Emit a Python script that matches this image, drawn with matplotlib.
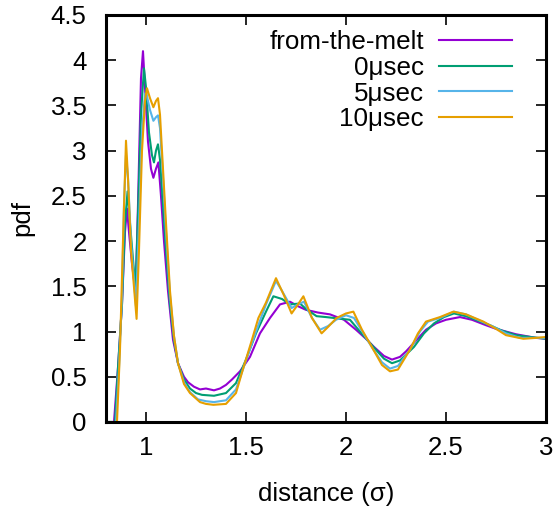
import matplotlib
matplotlib.use("Agg")
import matplotlib.pyplot as plt

plt.rcParams['font.family'] = ['Liberation Sans', 'DejaVu Sans']

# pair distribution curves
x_melt = [0.80, 0.84, 0.86, 0.88, 0.895, 0.905, 0.915, 0.93, 0.948, 0.96, 0.975, 0.985,
          0.995, 1.01, 1.025, 1.037, 1.05, 1.062, 1.075, 1.09, 1.11, 1.135, 1.16, 1.19,
          1.21, 1.24, 1.27, 1.30, 1.34, 1.37, 1.40, 1.43, 1.47, 1.52, 1.57, 1.62, 1.67,
          1.72, 1.76, 1.80, 1.86, 1.92, 1.99, 2.05, 2.10, 2.14, 2.19, 2.23, 2.27, 2.30,
          2.35, 2.40, 2.45, 2.50, 2.57, 2.63, 2.70, 2.75, 2.80, 2.85, 2.90, 2.95, 3.00]
y_melt = [0.0, 0.0, 0.6, 1.3, 2.1, 2.36, 2.1, 1.75, 1.43, 2.4, 3.8, 4.10,
          3.7, 3.1, 2.8, 2.70, 2.80, 2.87, 2.5, 2.0, 1.45, 0.91, 0.65, 0.50,
          0.44, 0.39, 0.36, 0.37, 0.35, 0.37, 0.41, 0.47, 0.56, 0.72, 0.98, 1.15, 1.30,
          1.33, 1.28, 1.24, 1.21, 1.19, 1.13, 1.02, 0.92, 0.83, 0.73, 0.69, 0.72, 0.78,
          0.90, 1.02, 1.09, 1.13, 1.16, 1.13, 1.07, 1.03, 1.00, 0.97, 0.95, 0.93, 0.92]

x_0us = [0.80, 0.845, 0.86, 0.88, 0.895, 0.908, 0.92, 0.935, 0.948, 0.96, 0.975, 0.99,
         1.00, 1.015, 1.03, 1.04, 1.05, 1.06, 1.07, 1.085, 1.10, 1.12, 1.14, 1.16, 1.19,
         1.22, 1.25, 1.28, 1.34, 1.40, 1.45, 1.50, 1.55, 1.60, 1.637, 1.68, 1.72, 1.77,
         1.80, 1.853, 1.90, 1.94, 2.02, 2.07, 2.137, 2.19, 2.23, 2.27, 2.34, 2.39, 2.44,
         2.49, 2.54, 2.60, 2.66, 2.72, 2.78, 2.85, 2.92, 3.00]
y_0us = [0.0, 0.0, 0.6, 1.3, 2.2, 2.55, 2.2, 1.8, 1.47, 2.3, 3.4, 3.91,
         3.7, 3.2, 2.95, 2.87, 3.0, 3.07, 2.9, 2.4, 1.9, 1.3, 0.9, 0.65, 0.47,
         0.37, 0.32, 0.30, 0.29, 0.32, 0.43, 0.69, 0.98, 1.22, 1.39, 1.36, 1.30, 1.31,
         1.25, 1.17, 1.16, 1.15, 1.13, 1.00, 0.83, 0.70, 0.65, 0.68, 0.83, 0.98, 1.09,
         1.16, 1.20, 1.17, 1.12, 1.07, 1.01, 0.96, 0.94, 0.92]

x_5us = [0.80, 0.85, 0.865, 0.88, 0.89, 0.90, 0.91, 0.925, 0.95, 0.965, 0.98, 0.995,
         1.005, 1.02, 1.037, 1.05, 1.06, 1.07, 1.085, 1.10, 1.12, 1.14, 1.16, 1.19,
         1.22, 1.26, 1.30, 1.34, 1.40, 1.45, 1.50, 1.55, 1.60, 1.65, 1.68, 1.728, 1.76,
         1.79, 1.83, 1.87, 1.91, 1.95, 2.00, 2.04, 2.09, 2.137, 2.18, 2.22, 2.26, 2.32,
         2.37, 2.41, 2.47, 2.54, 2.60, 2.67, 2.73, 2.80, 2.87, 2.94, 3.00]
y_5us = [0.0, 0.0, 0.6, 1.4, 2.4, 2.95, 2.7, 2.0, 1.28, 2.2, 3.2, 3.63,
         3.6, 3.45, 3.33, 3.37, 3.39, 3.25, 2.7, 2.1, 1.4, 0.95, 0.65, 0.44,
         0.33, 0.25, 0.23, 0.22, 0.24, 0.36, 0.68, 1.0, 1.3, 1.56, 1.45, 1.26, 1.30,
         1.33, 1.15, 1.02, 1.06, 1.13, 1.18, 1.15, 0.97, 0.80, 0.66, 0.59, 0.62, 0.80,
         1.0, 1.11, 1.15, 1.22, 1.19, 1.12, 1.06, 0.98, 0.93, 0.93, 0.93]

x_10us = [0.80, 0.855, 0.87, 0.885, 0.90, 0.91, 0.925, 0.953, 0.965, 0.98, 0.995, 1.005,
          1.02, 1.037, 1.05, 1.06, 1.07, 1.08, 1.10, 1.12, 1.14, 1.16, 1.19, 1.22, 1.27,
          1.30, 1.337, 1.40, 1.45, 1.483, 1.53, 1.562, 1.60, 1.65, 1.69, 1.728, 1.76,
          1.787, 1.83, 1.878, 1.91, 1.953, 2.00, 2.037, 2.08, 2.137, 2.18, 2.22, 2.26,
          2.32, 2.36, 2.40, 2.47, 2.537, 2.60, 2.687, 2.75, 2.80, 2.887, 2.95, 3.00]
y_10us = [0.0, 0.0, 0.8, 2.0, 3.11, 2.7, 1.9, 1.14, 1.9, 3.0, 3.55, 3.69,
          3.58, 3.48, 3.55, 3.58, 3.4, 3.0, 2.2, 1.45, 0.95, 0.65, 0.42, 0.32, 0.22,
          0.20, 0.19, 0.20, 0.32, 0.57, 0.91, 1.15, 1.32, 1.59, 1.40, 1.20, 1.30,
          1.39, 1.15, 0.98, 1.05, 1.15, 1.20, 1.22, 1.02, 0.80, 0.63, 0.56, 0.58,
          0.80, 0.98, 1.11, 1.16, 1.22, 1.19, 1.11, 1.03, 0.96, 0.92, 0.93, 0.94]

labels = ['from-the-melt', '0μsec', '5μsec', '10μsec']
colors = ['#9400d3', '#009e73', '#56b4e9', '#e69f00']

fig = plt.figure(figsize=(5.59, 5.13), dpi=100)
ax = fig.add_axes([0.1896, 0.1774, 0.7871, 0.7934])

series = [(x_melt, y_melt), (x_0us, y_0us), (x_5us, y_5us), (x_10us, y_10us)]
for (xs, ys), lab, c in zip(series, labels, colors):
    ax.plot(xs, ys, color=c, lw=1.5, label=lab)

ax.set_xlim(0.8, 3)
ax.set_ylim(0, 4.5)
ax.set_xticks([1, 1.5, 2, 2.5, 3])
ax.set_xticklabels(['1', '1.5', '2', '2.5', '3'])
ax.set_yticks([0, 0.5, 1, 1.5, 2, 2.5, 3, 3.5, 4, 4.5])
ax.set_yticklabels(['0', '0.5', '1', '1.5', '2', '2.5', '3', '3.5', '4', '4.5'])
ax.tick_params(direction='in', length=7, width=1.2, top=True, right=True,
               labelsize=18.5)
ax.tick_params(axis='y', pad=14)
ax.tick_params(axis='x', pad=10)
for s in ax.spines.values():
    s.set_linewidth(2.2)

ax.set_xlabel('distance (σ)', fontsize=18.5, labelpad=16)
ax.set_ylabel('pdf', fontsize=18.5, labelpad=12)

ax.legend(loc='upper right', bbox_to_anchor=(0.923, 0.962), frameon=False,
          markerfirst=False, fontsize=18.7, handlelength=2.8, handletextpad=0.6,
          labelspacing=0.06, borderpad=0, borderaxespad=0)

fig.savefig('out.png', dpi=100)
